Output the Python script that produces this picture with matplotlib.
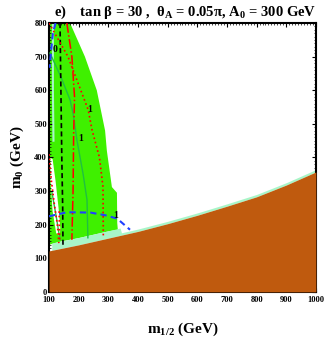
import numpy as np
import matplotlib
matplotlib.use('Agg')
import matplotlib.pyplot as plt
from matplotlib.ticker import MultipleLocator

plt.rcParams['font.family'] = ['Liberation Serif', 'DejaVu Serif']
plt.rcParams['font.weight'] = 'bold'
plt.rcParams['mathtext.fontset'] = 'custom'
plt.rcParams['mathtext.rm'] = 'Liberation Serif:bold'
plt.rcParams['mathtext.it'] = 'Liberation Serif:bold'
plt.rcParams['mathtext.bf'] = 'Liberation Serif:bold'

# excluded (charged LSP) region: upper boundary
brown_x = [100, 200, 300, 400, 500, 600, 700, 800, 900, 1000]
brown_y = [122, 140, 160, 180, 203, 228, 255, 283, 318, 357]

# allowed (green) region outline
lime_x = [103, 171, 221, 261, 289, 295, 312, 329, 330, 332, 300, 200, 140, 100, 100]
lime_y = [800, 800, 700, 600, 480, 420, 312, 295, 205, 185, 180, 160, 150, 140, 800]

# white hole inside the green area (lower left)
hole_x = [104, 112, 122, 132, 138, 136, 124, 112, 105]
hole_y = [400, 395, 330, 250, 190, 165, 175, 240, 330]

# contours
black_x = [137, 140, 143, 146, 147]
black_y = [800, 600, 400, 250, 140]
blue1_x = [122, 113, 107, 102]
blue1_y = [800, 770, 720, 667]
blue2_x = [100, 160, 240, 290, 330, 373]
blue2_y = [225, 237, 236, 228, 218, 185]
reddd_x = [160, 177, 186, 183, 181, 177]
reddd_y = [800, 700, 580, 470, 300, 155]
redd1_x = [100, 164, 232, 245, 270, 282, 283]
redd1_y = [800, 700, 542, 482, 400, 312, 165]
redd2_x = [100, 108, 118, 128, 133]
redd2_y = [410, 330, 260, 200, 145]
redd3_x = [134, 135, 136]
redd3_y = [240, 190, 150]
green1_x = [103, 140, 171, 181, 194, 215, 228, 231]
green1_y = [711, 640, 571, 532, 452, 350, 274, 161]
green2_x = [110, 125, 137]
green2_y = [295, 220, 155]

labels = ['0', '1', '1', '1']
label_x = [120, 238, 208, 326]
label_y = [720, 542, 458, 226]

fig = plt.figure(figsize=(3.27, 3.45), dpi=100)
ax = fig.add_axes([0.150, 0.154, 0.816, 0.779])

lime = '#3ff000'
pale = '#a8f5c8'
brown = '#bf5a0e'

ax.fill(lime_x, lime_y, color=lime, lw=0, zorder=1)
ax.fill(hole_x, hole_y, color='white', lw=0, zorder=1.5)
ax.plot([113, 113, 115], [800, 600, 450], color=pale, lw=1.5, zorder=2)

# thin cosmologically preferred strip along the boundary
bx = np.array(brown_x, dtype=float)
by = np.array(brown_y, dtype=float)
xs = np.linspace(100, 1000, 200)
ys = np.interp(xs, bx, by)
strip_w = np.where(xs < 340, 22, 7)
ax.fill_between(xs, ys, ys + strip_w, where=xs >= 108, color=pale, lw=0, zorder=2)

ax.fill_between(bx, 0, by, color=brown, lw=0, zorder=5)

ax.plot(black_x, black_y, color='black', ls=(0, (3, 2)), lw=1.2, zorder=4)
ax.plot(blue1_x, blue1_y, color='#2040ff', ls=(0, (3, 2)), lw=1.5, zorder=4)
ax.plot(blue2_x, blue2_y, color='#2040ff', ls=(0, (3, 2)), lw=1.5, zorder=4)
ax.plot(reddd_x, reddd_y, color='red', ls='-.', lw=1.1, zorder=4)
ax.plot(redd1_x, redd1_y, color='red', ls=':', lw=1.2, zorder=4)
ax.plot(redd2_x, redd2_y, color='red', ls=':', lw=1.2, zorder=4)
ax.plot(redd3_x, redd3_y, color='red', ls=':', lw=1.2, zorder=4)
ax.plot(green1_x, green1_y, color='#20c040', lw=1.0, zorder=3)
ax.plot(green2_x, green2_y, color='#20c040', lw=1.0, zorder=3)

for t, x, y in zip(labels, label_x, label_y):
    ax.text(x, y, t, fontsize=7, fontweight='bold', ha='center', va='center', zorder=6)

ax.set_xlim(100, 1000)
ax.set_ylim(0, 800)
ax.xaxis.set_major_locator(MultipleLocator(100))
ax.xaxis.set_minor_locator(MultipleLocator(10))
ax.yaxis.set_major_locator(MultipleLocator(100))
ax.yaxis.set_minor_locator(MultipleLocator(10))
ax.tick_params(which='both', direction='in', top=True, right=True, labelsize=6)
ax.tick_params(axis='x', pad=3)
ax.tick_params(axis='y', pad=1.5)
ax.tick_params(which='major', length=3, width=0.8)
ax.tick_params(which='minor', length=1.5, width=0.5)
for lab in ax.get_xticklabels() + ax.get_yticklabels():
    lab.set_fontweight('bold')
for s in ax.spines.values():
    s.set_linewidth(1.5)

ax.set_xlabel(r'm$_{1/2}$ (GeV)', fontsize=11, fontweight='bold', labelpad=12)
ax.set_ylabel(r'm$_0$ (GeV)', fontsize=11, fontweight='bold', labelpad=6)

fig.text(0.165, 0.963, r'e)    tan β = 30 ,  θ$_{\rm A}$ = 0.05π, A$_0$ = 300 GeV',
         fontsize=10.5, fontweight='bold', ha='left', va='center')

fig.savefig('out.png', dpi=100)
